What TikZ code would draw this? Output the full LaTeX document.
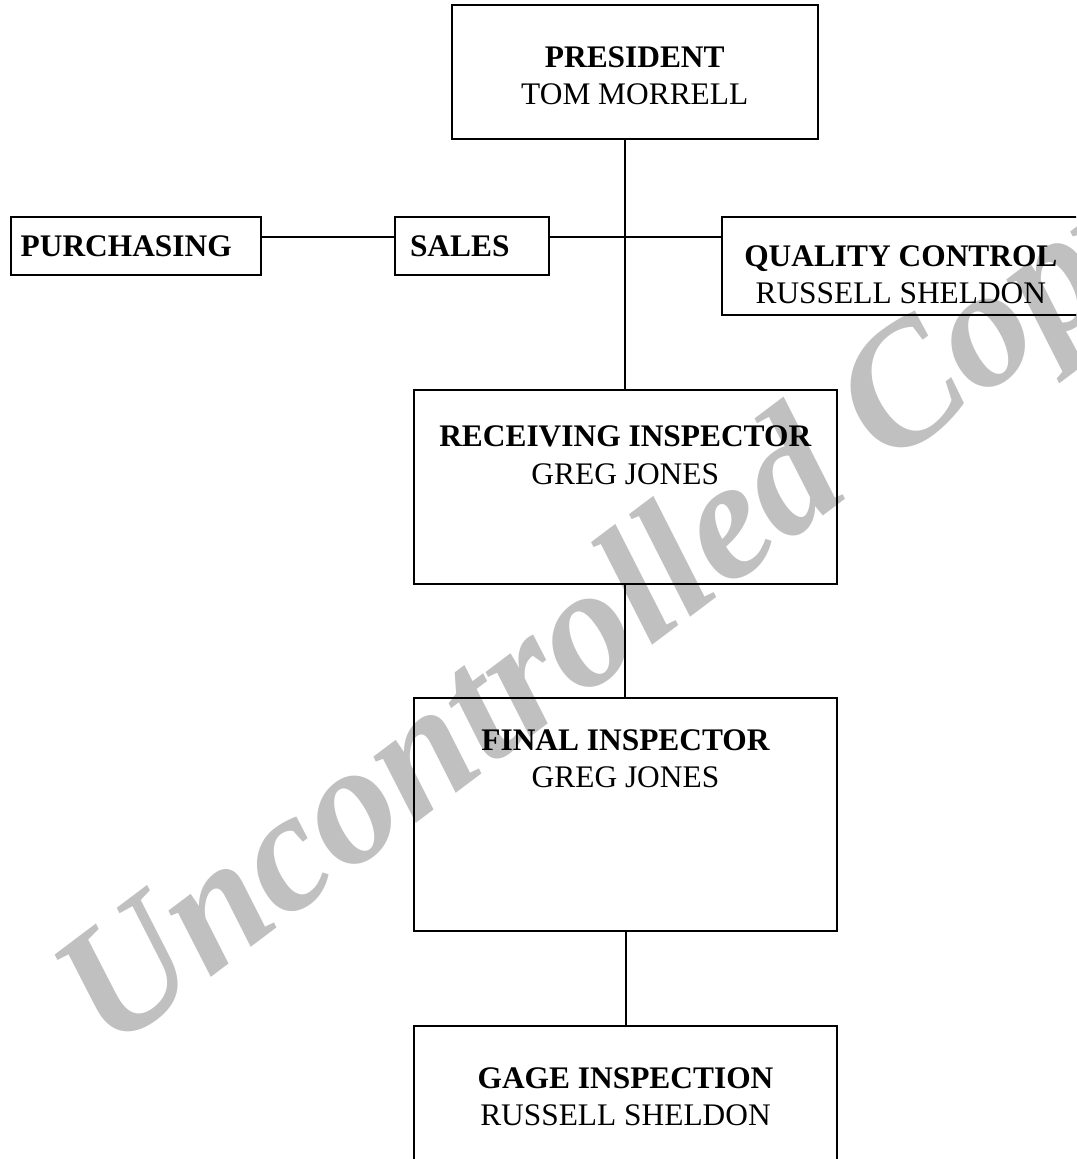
\documentclass[tikz,border=0pt]{standalone}
\usepackage{fontspec}
\setmainfont{Liberation Serif}
\definecolor{wmgray}{HTML}{C0C0C0}
\tikzstyle{orgbox} = [rectangle, draw, line width=1pt, inner sep=0pt, align=center, font=\fontsize{15.7}{18.5}\selectfont]
\tikzstyle{sidebox} = [rectangle, draw, line width=1pt, inner ysep=0pt, align=left, font=\fontsize{15.7}{18.5}\selectfont\bfseries]
\tikzstyle{link} = [line width=1pt]
\tikzstyle{watermark} = [text=wmgray, inner sep=0pt, font=\fontsize{85.5}{85.5}\selectfont\bfseries\itshape]

\begin{document}
\begin{tikzpicture}[x=0.5pt, y=-0.5pt]
            \useasboundingbox (0,0) rectangle (1076,1159);
            \clip (0,0) rectangle (1076,1159);
            % watermark sits behind the chart
            \node [watermark, rotate=37, anchor=base west] at (110,1054) (wmark) {Uncontrolled Copy};

            \node [orgbox, minimum width=182.75pt, text height=50pt, text depth=17.25pt] at (634.75,72.25) (pres) {{\bfseries PRESIDENT}\\TOM MORRELL};
            \node [sidebox, text width=115pt, inner xsep=5pt, text height=20.15pt, text depth=9pt] at (135.7,245.85) (purch) {PURCHASING};
            \node [sidebox, text width=62pt, inner xsep=7.5pt, text height=20.15pt, text depth=9pt] at (472,245.85) (sales) {SALES};
            \node [orgbox, minimum width=179.15pt, text height=43.65pt, text depth=5.5pt] at (900.85,265.85) (qc) {{\bfseries QUALITY CONTROL}\\RUSSELL SHELDON};
            \node [orgbox, minimum width=211.75pt, text height=47pt, text depth=50pt] at (625.25,487) (recv) {{\bfseries RECEIVING INSPECTOR}\\GREG JONES};
            \node [orgbox, minimum width=211.5pt, text height=44.5pt, text depth=72pt] at (625.5,814.5) (final) {{\bfseries FINAL INSPECTOR}\\GREG JONES};
            \node [orgbox, minimum width=211.5pt, text height=49.5pt, text depth=37.5pt] at (625.5,1113) (gage) {{\bfseries GAGE INSPECTION}\\RUSSELL SHELDON};

            \coordinate (hub) at (625.7,237.3);

            \draw [link] (recv.north) -- (recv.north |- pres.south);
            \draw [link] (purch.east |- hub) -- (sales.west |- hub);
            \draw [link] (sales.east |- hub) -- (qc.west |- hub);
            \draw [link] (recv.south) -- (recv.south |- final.north);
            \draw [link] (final.south) -- (final.south |- gage.north);
\end{tikzpicture}
\end{document}
